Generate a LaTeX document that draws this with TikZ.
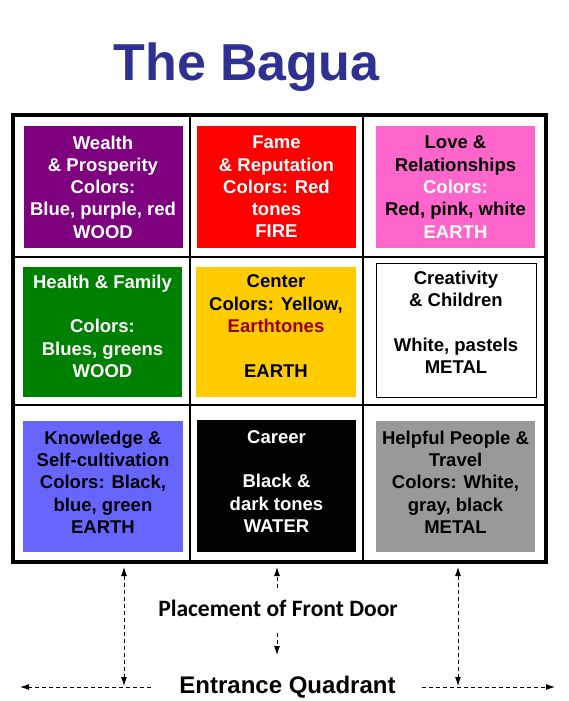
\documentclass[tikz,border=0pt]{standalone}
\usepackage{fontspec}
\setmainfont{Liberation Sans}
\newfontfamily\doorfont{Carlito}
\usetikzlibrary{positioning, arrows.meta}
\definecolor{colTitle}{HTML}{2E3192}
\definecolor{colWealth}{HTML}{7F007F}
\definecolor{colFame}{HTML}{FF0000}
\definecolor{colLove}{HTML}{FF66CC}
\definecolor{colHealth}{HTML}{008000}
\definecolor{colCenter}{HTML}{FFCC00}
\definecolor{colEarthtone}{HTML}{990000}
\definecolor{colKnow}{HTML}{6666FF}
\definecolor{colCareer}{HTML}{000000}
\definecolor{colHelpful}{HTML}{999999}

\begin{document}
\begin{tikzpicture}[
    x=1pt, y=-1pt,
    >={Latex[length=9pt, width=6pt]},
    cell/.style={inner sep=0pt, align=center, minimum width=159pt,
                 minimum height=122pt, font=\fontsize{18.5}{22.3}\selectfont\bfseries},
    frame/.style={draw, line width=4pt, inner sep=0pt,
                  minimum width=533pt, minimum height=447pt},
    gridline/.style={line width=1.3pt},
    dasharr/.style={dashed, dash pattern=on 4pt off 3pt, line width=0.9pt},
    title/.style={font=\fontsize{52}{60}\selectfont\bfseries, text=colTitle, inner sep=0pt},
    door/.style={font=\doorfont\fontsize{23.5}{28}\selectfont\bfseries, inner sep=0pt},
    quad/.style={font=\fontsize{24}{28}\selectfont\bfseries, inner sep=0pt},
]
\useasboundingbox (0,0) rectangle (569,701);

% ---- Title -----------------------------------------------------------------
\node[title, anchor=base] (title) at (246.5,80) {The Bagua};

% ---- Frame and grid --------------------------------------------------------
\node[frame] (frame) at (279.5,338.5) {};
\draw[gridline] (190,115) -- (190,562);
\draw[gridline] (363,115) -- (363,562);
\draw[gridline] (13,257) -- (546,257);
\draw[gridline] (13,405) -- (546,405);

% ---- Top row ---------------------------------------------------------------
\node[cell, fill=colWealth, text=white] (wealth) at (103,187)
    {Wealth\\\& Prosperity\\Colors:\\Blue, purple, red\\WOOD};
\node[cell, fill=colFame, text=white] (fame) at (276.5,187)
    {Fame\\\& Reputation\\Colors: Red\\tones\\FIRE};
\node[cell, fill=colLove, text=black] (love) at (455.5,187)
    {Love \&\\Relationships\\\textcolor{white}{Colors:}\\Red, pink, white\\\textcolor{white}{EARTH}};

% ---- Middle row ------------------------------------------------------------
\node[cell, fill=colHealth, text=white, minimum height=130pt, text depth=12pt] (health) at (102.5,332)
    {Health \& Family\\[22.3pt]Colors:\\Blues, greens\\WOOD};
\node[cell, fill=colCenter, text=black, minimum width=160pt, minimum height=130pt,
      text depth=12pt] (ctr) at (276,332)
    {Center\\Colors: Yellow,\\\textcolor{colEarthtone}{Earthtones}\\[22.3pt]EARTH};
\node[cell, fill=white, draw=black, line width=0.8pt, text=black,
      minimum width=160pt, minimum height=134pt, text depth=16pt] (creat) at (456,330)
    {Creativity\\\& Children\\[22.3pt]White, pastels\\METAL};

% ---- Bottom row ------------------------------------------------------------
\node[cell, fill=colKnow, text=black, minimum width=160pt, minimum height=131pt,
      text depth=9pt] (know) at (103,486.5)
    {Knowledge \&\\Self-cultivation\\Colors: Black,\\blue, green\\EARTH};
\node[cell, fill=colCareer, text=white, minimum height=132pt, text depth=9pt] (career) at (276.5,486)
    {Career\\[22.3pt]Black \&\\dark tones\\WATER};
\node[cell, fill=colHelpful, text=black, minimum height=131pt, text depth=9pt] (helpful) at (455.5,486.5)
    {Helpful People \&\\Travel\\Colors: White,\\gray, black\\METAL};

% ---- Front door labels -----------------------------------------------------
\node[door, anchor=base] (doortxt) at (278,616) {Placement of Front Door};
\node[quad, anchor=base] (quadtxt) at (287.5,693) {Entrance Quadrant};

\coordinate (doorL) at (124,686);
\coordinate (doorR) at (458,686);
\coordinate (doorUp) at (277,588);
\coordinate (doorDn) at (277,633);
\coordinate (doorDnEnd) at (277,655);
\coordinate (quadL) at (151,687);
\coordinate (quadLEnd) at (20,687);
\coordinate (quadR) at (422,687);
\coordinate (quadREnd) at (555,687);

% ---- Arrows ----------------------------------------------------------------
\draw[dasharr, <->, shorten <=3pt] (doorL |- frame.south) -- (doorL);
\draw[dasharr, <->, shorten <=3pt] (doorR |- frame.south) -- (doorR);
\draw[dasharr, ->, shorten >=3pt] (doorUp) -- (doorUp |- frame.south);
\draw[dasharr, ->] (doorDn) -- (doorDnEnd);
\draw[dasharr, ->] (quadL) -- (quadLEnd);
\draw[dasharr, ->] (quadR) -- (quadREnd);

\end{tikzpicture}
\end{document}
